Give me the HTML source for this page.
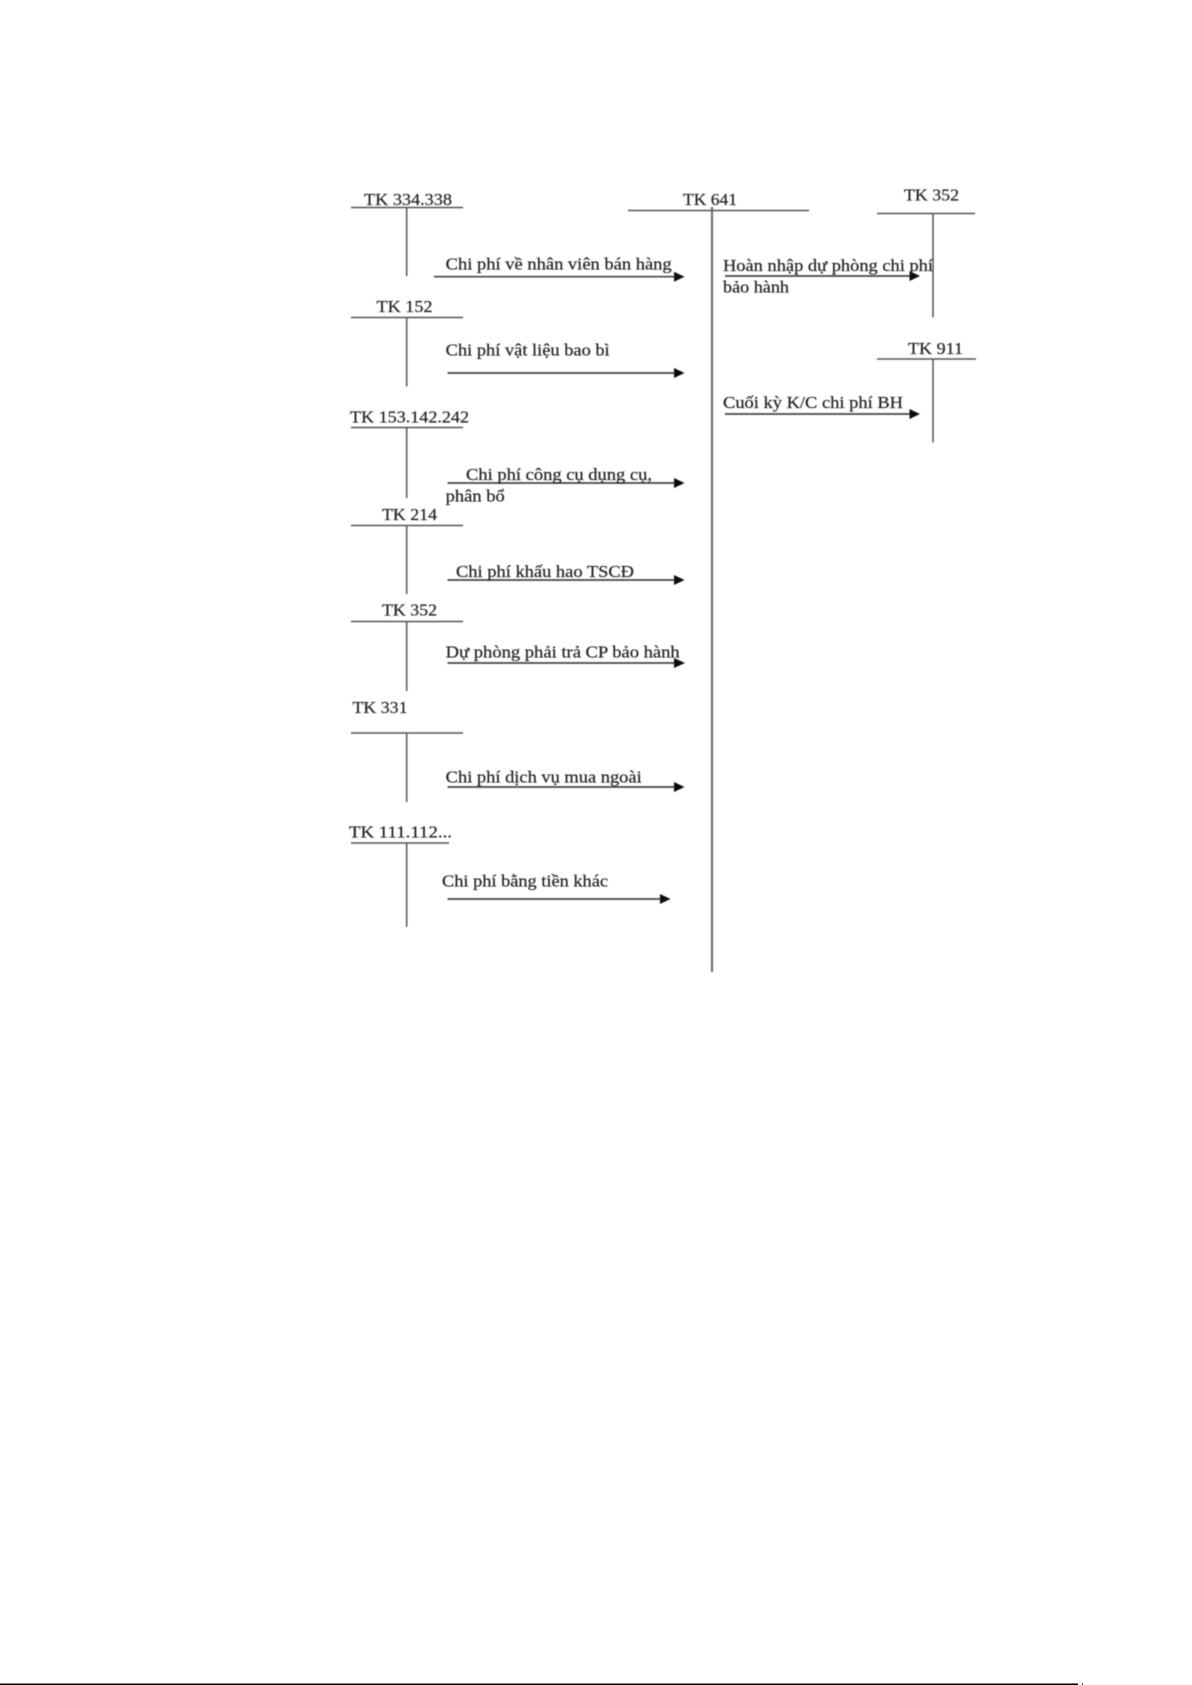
<!DOCTYPE html>
<html lang="vi">
<head>
<meta charset="utf-8">
<title>TK 641</title>
<style>
html,body{margin:0;padding:0;background:#fff;width:1192px;height:1685px;overflow:hidden}
svg{display:block}
text{font-family:"Liberation Serif","Noto Serif CJK SC",serif;font-size:17px;fill:#222;stroke:#222;stroke-width:.2}
.l{stroke:#555;stroke-width:1.5;fill:none}
.a{stroke:#444;stroke-width:1.7;fill:none}
.m{stroke:#666;stroke-width:2;fill:none}
.h{fill:#111;stroke:none}
</style>
</head>
<body>
<svg width="1192" height="1685" viewBox="0 0 1192 1685" xmlns="http://www.w3.org/2000/svg">
<defs><filter id="b" x="-2%" y="-2%" width="104%" height="104%"><feGaussianBlur stdDeviation="0.45"/></filter></defs>
<g filter="url(#b)">
<!-- left T accounts -->
<path class="l" d="M351 207.5H463M406.7 207.5V276"/>
<path class="l" d="M351 317.5H463M406.7 317.5V386.5"/>
<path class="l" d="M351 427.5H463M406.7 427.5V498"/>
<path class="l" d="M351 525.5H463M406.7 525.5V594"/>
<path class="l" d="M351 621.5H463M406.7 621.5V691"/>
<path class="l" d="M351 733H463M406.7 733V802"/>
<path class="l" d="M351 843H449M406.7 843V927"/>
<!-- centre and right T accounts -->
<path class="l" d="M628 210.5H809"/>
<path class="m" d="M712 207V972"/>
<path class="l" d="M877 213.5H975M933 213.5V317.5"/>
<path class="l" d="M877 359H976M933 359V442.5"/>
<!-- arrows -->
<path class="a" d="M434 276.7H676"/><path class="h" d="M674 271.7L684.5 276.7L674 281.7Z"/>
<path class="a" d="M447.5 373H676"/><path class="h" d="M674 368L684.5 373L674 378Z"/>
<path class="a" d="M447.5 483H676"/><path class="h" d="M674 478L684.5 483L674 488Z"/>
<path class="a" d="M447.5 580H676"/><path class="h" d="M674 575L684.5 580L674 585Z"/>
<path class="a" d="M447.5 663H676"/><path class="h" d="M674 658L685 663L674 668Z"/>
<path class="a" d="M447.5 787H676"/><path class="h" d="M674 782L684.5 787L674 792Z"/>
<path class="a" d="M447.5 899H662"/><path class="h" d="M660 894L670.5 899L660 904Z"/>
<path class="a" d="M725 276H912"/><path class="h" d="M909.5 271L920 276L909.5 281Z"/>
<path class="a" d="M725 414H912"/><path class="h" d="M909.5 409L920 414L909.5 419Z"/>
<!-- labels -->
<text x="364" y="205" textLength="88" lengthAdjust="spacingAndGlyphs">TK 334.338</text>
<text x="376.5" y="312" textLength="56" lengthAdjust="spacingAndGlyphs">TK 152</text>
<text x="350" y="422.5" textLength="119" lengthAdjust="spacingAndGlyphs">TK 153.142.242</text>
<text x="382" y="520" textLength="55" lengthAdjust="spacingAndGlyphs">TK 214</text>
<text x="382" y="615.5" textLength="55" lengthAdjust="spacingAndGlyphs">TK 352</text>
<text x="352.5" y="713" textLength="55" lengthAdjust="spacingAndGlyphs">TK 331</text>
<text x="349" y="837.5" textLength="103" lengthAdjust="spacingAndGlyphs">TK 111.112...</text>
<text x="683" y="205" textLength="54" lengthAdjust="spacingAndGlyphs">TK 641</text>
<text x="904" y="200.5" textLength="55" lengthAdjust="spacingAndGlyphs">TK 352</text>
<text x="908" y="354" textLength="55" lengthAdjust="spacingAndGlyphs">TK 911</text>
<text x="445.7" y="269.5" textLength="226" lengthAdjust="spacingAndGlyphs">Chi phí về nhân viên bán hàng</text>
<text x="445.7" y="355.5" textLength="164" lengthAdjust="spacingAndGlyphs">Chi phí vật liệu bao bì</text>
<text x="466" y="480" textLength="186" lengthAdjust="spacingAndGlyphs">Chi phí công cụ dụng cụ,</text>
<text x="445.7" y="501.5" textLength="59" lengthAdjust="spacingAndGlyphs">phân bổ</text>
<text x="456" y="577" textLength="178" lengthAdjust="spacingAndGlyphs">Chi phí khấu hao TSCĐ</text>
<text x="445.7" y="657.5" textLength="234" lengthAdjust="spacingAndGlyphs">Dự phòng phải trả CP bảo hành</text>
<text x="445.7" y="782.5" textLength="196" lengthAdjust="spacingAndGlyphs">Chi phí dịch vụ mua ngoài</text>
<text x="442" y="886.5" textLength="166" lengthAdjust="spacingAndGlyphs">Chi phí bằng tiền khác</text>
<text x="723" y="271" textLength="210" lengthAdjust="spacingAndGlyphs">Hoàn nhập dự phòng chi phí</text>
<text x="723" y="292.5" textLength="66" lengthAdjust="spacingAndGlyphs">bảo hành</text>
<text x="723" y="408" textLength="180" lengthAdjust="spacingAndGlyphs">Cuối kỳ K/C chi phí BH</text>
</g>
<!-- page footer rule -->
<rect x="0" y="1683.5" width="1078" height="1.5" fill="#000"/>
<rect x="1082" y="1683" width="1" height="2" fill="#555"/>
</svg>
</body>
</html>
